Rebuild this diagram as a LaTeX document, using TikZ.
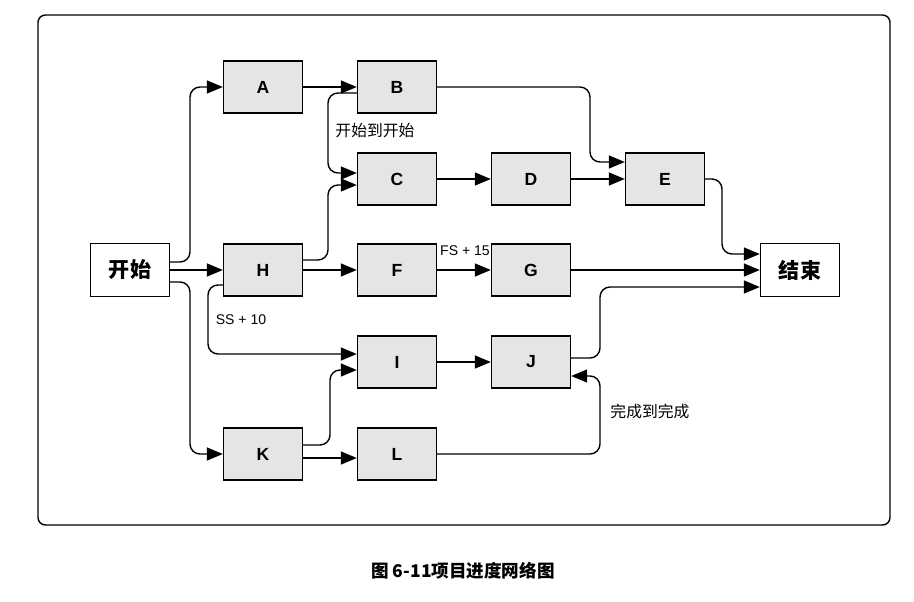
\documentclass[tikz,border=0pt]{standalone}
\usepackage{fontspec}
\setmainfont{Liberation Sans}
\newfontfamily\cjk{Noto Sans CJK SC}
\usetikzlibrary{arrows.meta}
\definecolor{boxgray}{RGB}{229,229,229}

\begin{document}
\begin{tikzpicture}[
    x=0.02cm, y=-0.02cm,
    >={Triangle[length=3.2mm, width=2.6mm]},
    % Node styles
    task/.style={rectangle, minimum width=1.58cm, minimum height=1.04cm,
                 draw=black, thick, fill=boxgray, font=\bfseries},
    term/.style={rectangle, minimum width=1.58cm, minimum height=1.06cm,
                 draw=black, thick, fill=white, font=\cjk\large\bfseries},
    arrow/.style={thick, ->, rounded corners=2mm},
    label/.style={font=\cjk\small},
    note/.style={font=\footnotesize}
]
\useasboundingbox (0,0) rectangle (914,602);

% Frame
\draw[thick, rounded corners=1.5mm] (38,15) rectangle (890,525);

% Nodes
\node (start) [term] at (130,270) {开始};
\node (end) [term] at (800,270) {结束};
\node (A) [task] at (263,87) {A};
\node (B) [task] at (397,87) {B};
\node (C) [task] at (397,179) {C};
\node (D) [task] at (531,179) {D};
\node (E) [task] at (665,179) {E};
\node (H) [task] at (263,270) {H};
\node (F) [task] at (397,270) {F};
\node (G) [task] at (531,270) {G};
\node (I) [task] at (397,362) {I};
\node (J) [task] at (531,362) {J};
\node (K) [task] at (263,454) {K};
\node (L) [task] at (397,454) {L};

% Arrows
\draw [arrow] (start.east |- 0,262) -| (190,150) |- (A.west);
\draw [arrow] (start) -- (H);
\draw [arrow] (start.east |- 0,282) -| (190,400) |- (K.west);
\draw [arrow] (A) -- (B);
\draw [arrow] (B.west |- 0,93) -| (328,130) |- (C.west |- 0,173);
\draw [arrow] (H.east |- 0,260) -| (328,220) |- (C.west |- 0,185);
\draw [arrow] (B.east) -| (590,130) |- (E.west |- 0,162);
\draw [arrow] (C) -- (D);
\draw [arrow] (D) -- (E);
\draw [arrow] (E.east) -| (722,220) |- (end.west |- 0,254);
\draw [arrow] (H) -- (F);
\draw [arrow] (F) -- (G);
\draw [arrow] (G) -- (end);
\draw [arrow] (J.east |- 0,358) -| (600,320) |- (end.west |- 0,287);
\draw [arrow] (H.west |- 0,285) -| (208,320) |- (I.west |- 0,354);
\draw [arrow] (I) -- (J);
\draw [arrow] (K.east |- 0,445) -| (330,400) |- (I.west |- 0,370);
\draw [arrow] (K.east |- 0,458) -- (L.west |- 0,458);
\draw [arrow] (L.east) -| (600,420) |- (J.east |- 0,376);

% Labels
\node[label] (ss) at (375,131) {开始到开始};
\node[note] (fs) at (465,251) {FS + 15};
\node[note] (ssten) at (241,320) {SS + 10};
\node[label] (ff) at (650,411) {完成到完成};
\node[font=\cjk\bfseries] (cap) at (463,571) {图 6-11项目进度网络图};
\end{tikzpicture}
\end{document}
